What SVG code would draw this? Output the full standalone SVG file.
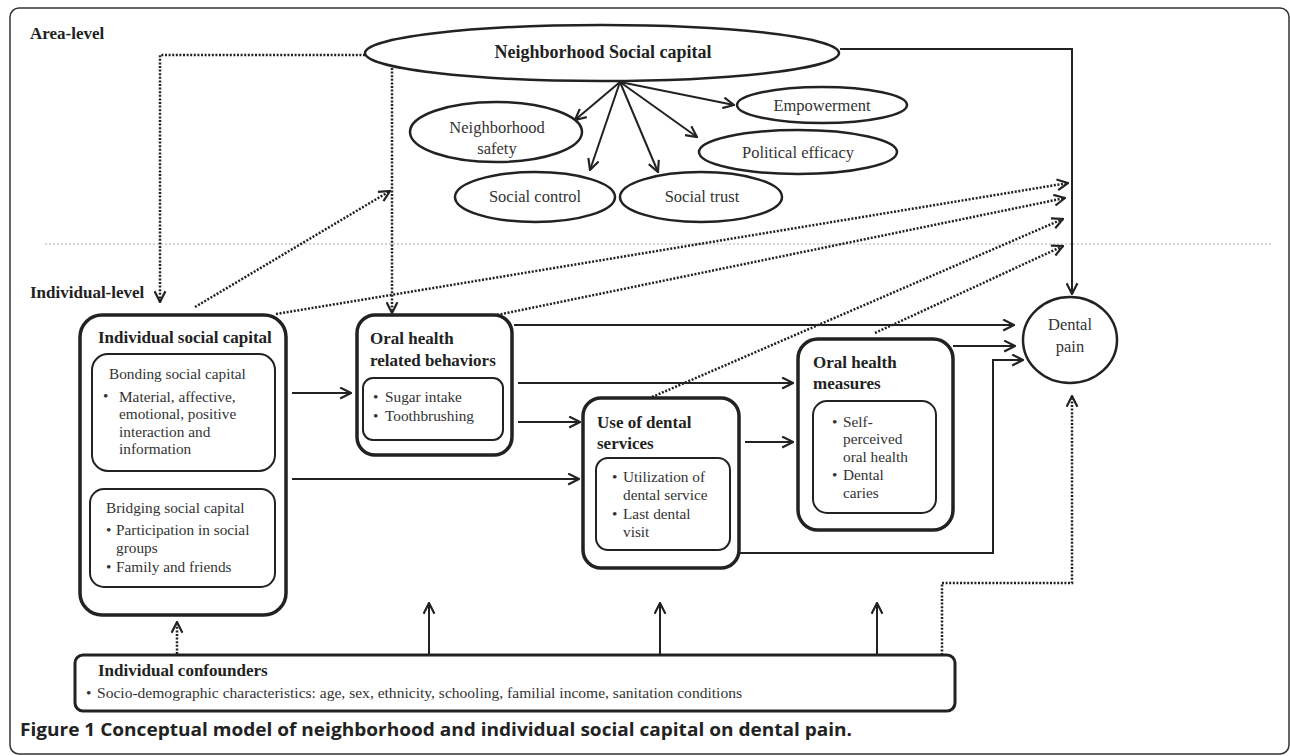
<svg xmlns="http://www.w3.org/2000/svg" width="1290" height="756" viewBox="0 0 1290 756">
<style>
  .frame{fill:none;stroke:#333;stroke-width:1.5}
  .sep{fill:none;stroke:#aaa;stroke-width:1;stroke-dasharray:2 2}
  .big{fill:#fff;stroke:#222;stroke-width:3.5}
  .inner{fill:#fff;stroke:#222;stroke-width:2}
  .ell{fill:#fff;stroke:#222;stroke-width:2.5}
  .conf{fill:#fff;stroke:#222;stroke-width:3}
  .solid{fill:none;stroke:#222;stroke-width:2}
  .dot{fill:none;stroke:#222;stroke-width:2.5;stroke-dasharray:2 1.6}
  text{font-family:"Liberation Serif","Times New Roman",serif;fill:#222}
  .lvl{font-family:"Liberation Serif","Times New Roman",serif;font-size:17px;font-weight:bold}
  .title{font-family:"Liberation Serif","Times New Roman",serif;font-size:17px;font-weight:bold}
  .body{font-family:"Liberation Serif","Times New Roman",serif;font-size:15.3px;fill:#333}
  .eltxt{font-family:"Liberation Serif","Times New Roman",serif;font-size:16.5px;fill:#333}
  .cap{font-family:"Open Sans","Noto Sans","Liberation Sans",sans-serif;font-size:18px;font-weight:bold;fill:#222}
</style>
<defs>
  <marker id="arr" viewBox="0 0 12 12" refX="11" refY="6" markerWidth="13" markerHeight="13" markerUnits="userSpaceOnUse" orient="auto">
    <path d="M1,1 L11,6 L1,11" fill="none" stroke="#222" stroke-width="2"/>
  </marker>
</defs>

<rect class="frame" x="10" y="8" width="1279" height="746" rx="9"/>
<text class="lvl" x="30" y="39">Area-level</text>
<text class="lvl" x="30" y="298">Individual-level</text>
<line class="sep" x1="45" y1="244" x2="1273" y2="244"/>

<g id="connectors">
  <line class="solid" x1="620" y1="82" x2="575" y2="120" marker-end="url(#arr)"/>
  <line class="solid" x1="620" y1="82" x2="590" y2="170" marker-end="url(#arr)"/>
  <line class="solid" x1="620" y1="82" x2="658" y2="172" marker-end="url(#arr)"/>
  <line class="solid" x1="620" y1="82" x2="697" y2="137" marker-end="url(#arr)"/>
  <line class="solid" x1="620" y1="82" x2="734" y2="105" marker-end="url(#arr)"/>
  <path class="solid" d="M840,49 H1072 V294" marker-end="url(#arr)"/>
  <path class="dot" d="M365,55 H160 V302" marker-end="url(#arr)"/>
  <path class="dot" d="M392,68 V313" marker-end="url(#arr)"/>
  <line class="dot" x1="195" y1="307" x2="390" y2="191" marker-end="url(#arr)"/>
  <line class="dot" x1="276" y1="314" x2="1068" y2="183" marker-end="url(#arr)"/>
  <line class="dot" x1="497" y1="315" x2="1065" y2="198" marker-end="url(#arr)"/>
  <line class="dot" x1="652" y1="397" x2="1063" y2="219" marker-end="url(#arr)"/>
  <line class="dot" x1="875" y1="333" x2="1063" y2="246" marker-end="url(#arr)"/>
  <line class="solid" x1="292" y1="393" x2="351" y2="393" marker-end="url(#arr)"/>
  <line class="solid" x1="292" y1="479" x2="579" y2="479" marker-end="url(#arr)"/>
  <line class="solid" x1="518" y1="422" x2="580" y2="422" marker-end="url(#arr)"/>
  <line class="solid" x1="518" y1="383" x2="793" y2="383" marker-end="url(#arr)"/>
  <line class="solid" x1="514" y1="325" x2="1014" y2="325" marker-end="url(#arr)"/>
  <line class="solid" x1="745" y1="442" x2="793" y2="442" marker-end="url(#arr)"/>
  <line class="solid" x1="953" y1="346" x2="1015" y2="346" marker-end="url(#arr)"/>
  <path class="solid" d="M739,553 H993 V360 H1023" marker-end="url(#arr)"/>
  <line class="solid" x1="429" y1="655" x2="429" y2="603" marker-end="url(#arr)"/>
  <line class="solid" x1="660" y1="655" x2="660" y2="603" marker-end="url(#arr)"/>
  <line class="solid" x1="877" y1="655" x2="877" y2="603" marker-end="url(#arr)"/>
  <line class="dot" x1="177" y1="654" x2="177" y2="622" marker-end="url(#arr)"/>
  <path class="dot" d="M942,655 V583 H1072 V396" marker-end="url(#arr)"/>
</g>

<g id="neighborhood-social-capital">
  <ellipse class="ell" cx="602" cy="53" rx="237" ry="28"/>
  <text x="603" y="58" text-anchor="middle" style="font-family:'Liberation Serif','Times New Roman',serif;font-size:18px;font-weight:bold">Neighborhood Social capital</text>
</g>
<g id="neighborhood-safety">
  <ellipse class="ell" cx="496" cy="132" rx="86" ry="30"/>
  <text class="eltxt" x="497" y="133" text-anchor="middle">Neighborhood</text>
  <text class="eltxt" x="497" y="154" text-anchor="middle">safety</text>
</g>
<g id="social-control">
  <ellipse class="ell" cx="535" cy="197" rx="80" ry="25"/>
  <text class="eltxt" x="535" y="202" text-anchor="middle">Social control</text>
</g>
<g id="social-trust">
  <ellipse class="ell" cx="701" cy="197" rx="81" ry="25"/>
  <text class="eltxt" x="702" y="202" text-anchor="middle">Social trust</text>
</g>
<g id="empowerment">
  <ellipse class="ell" cx="822" cy="105" rx="85" ry="18"/>
  <text class="eltxt" x="822" y="111" text-anchor="middle">Empowerment</text>
</g>
<g id="political-efficacy">
  <ellipse class="ell" cx="798" cy="152" rx="99" ry="22"/>
  <text class="eltxt" x="798" y="158" text-anchor="middle">Political efficacy</text>
</g>

<g id="individual-social-capital">
  <rect class="big" x="80" y="315" width="206" height="300" rx="22"/>
  <text class="title" x="98" y="343">Individual social capital</text>
  <rect class="inner" x="92" y="354" width="183" height="117" rx="16"/>
  <text class="body" x="109" y="379">Bonding social capital</text>
  <text class="body" x="103" y="401">•</text>
  <text class="body" x="119" y="402">Material, affective,</text>
  <text class="body" x="119" y="419">emotional, positive</text>
  <text class="body" x="119" y="437">interaction and</text>
  <text class="body" x="119" y="454">information</text>
  <rect class="inner" x="90" y="489" width="185" height="98" rx="14"/>
  <text class="body" x="106" y="513">Bridging social capital</text>
  <text class="body" x="106" y="535">•</text>
  <text class="body" x="116" y="535">Participation in social</text>
  <text class="body" x="116" y="553">groups</text>
  <text class="body" x="106" y="572">•</text>
  <text class="body" x="116" y="572">Family and friends</text>
</g>

<g id="oral-health-behaviors">
  <rect class="big" x="357" y="315" width="155" height="140" rx="18"/>
  <text class="title" x="370" y="344">Oral health</text>
  <text class="title" x="370" y="366">related behaviors</text>
  <rect class="inner" x="363" y="378" width="140" height="62" rx="10"/>
  <text class="body" x="373" y="402">•</text>
  <text class="body" x="385" y="402">Sugar intake</text>
  <text class="body" x="373" y="421">•</text>
  <text class="body" x="385" y="421">Toothbrushing</text>
</g>

<g id="use-of-dental-services">
  <rect class="big" x="583" y="398" width="156" height="170" rx="18"/>
  <text class="title" x="597" y="428">Use of dental</text>
  <text class="title" x="597" y="449">services</text>
  <rect class="inner" x="596" y="458" width="134" height="92" rx="12"/>
  <text class="body" x="612" y="482">•</text>
  <text class="body" x="623" y="482">Utilization of</text>
  <text class="body" x="623" y="500">dental service</text>
  <text class="body" x="612" y="519">•</text>
  <text class="body" x="623" y="519">Last dental</text>
  <text class="body" x="623" y="537">visit</text>
</g>

<g id="oral-health-measures">
  <rect class="big" x="798" y="339" width="155" height="191" rx="20"/>
  <text class="title" x="813" y="368">Oral health</text>
  <text class="title" x="813" y="389">measures</text>
  <rect class="inner" x="813" y="401" width="123" height="112" rx="14"/>
  <text class="body" x="832" y="427">•</text>
  <text class="body" x="843" y="427">Self-</text>
  <text class="body" x="843" y="444">perceived</text>
  <text class="body" x="843" y="462">oral health</text>
  <text class="body" x="832" y="480">•</text>
  <text class="body" x="843" y="480">Dental</text>
  <text class="body" x="843" y="498">caries</text>
</g>

<g id="dental-pain">
  <ellipse class="ell" cx="1070" cy="340" rx="47" ry="43"/>
  <text class="eltxt" x="1070" y="330" text-anchor="middle">Dental</text>
  <text class="eltxt" x="1070" y="352" text-anchor="middle">pain</text>
</g>

<g id="individual-confounders">
  <rect class="conf" x="75" y="655" width="880" height="56" rx="8"/>
  <text class="title" x="98" y="676">Individual confounders</text>
  <text class="body" x="86" y="698">•</text>
  <text class="body" x="97" y="698" textLength="645" lengthAdjust="spacingAndGlyphs">Socio-demographic characteristics: age, sex, ethnicity, schooling, familial income, sanitation conditions</text>
</g>

<text class="cap" x="20" y="736" textLength="832" lengthAdjust="spacingAndGlyphs">Figure 1 Conceptual model of neighborhood and individual social capital on dental pain.</text>
</svg>
